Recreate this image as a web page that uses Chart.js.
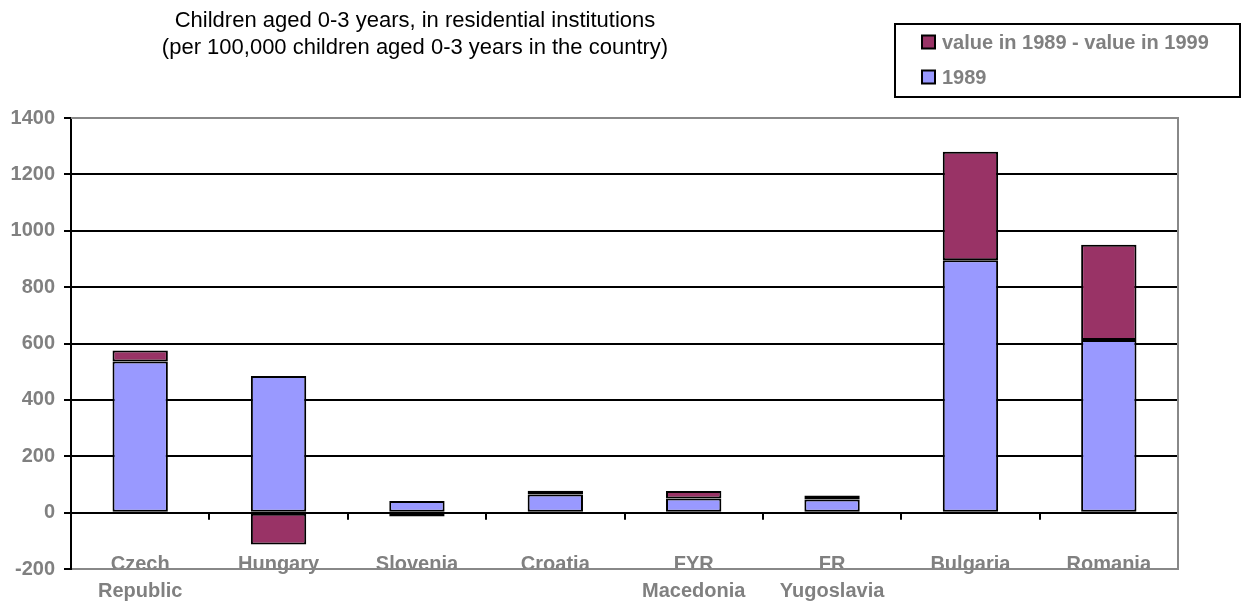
<!DOCTYPE html>
<html>
<head>
<meta charset="utf-8">
<title>Children aged 0-3 years in residential institutions</title>
<script src="https://cdn.jsdelivr.net/npm/chart.js@4/dist/chart.umd.min.js"></script>
<style>
  html, body { margin: 0; padding: 0; background: #ffffff; }
  #wrap { width: 1249px; height: 602px; }
</style>
</head>
<body>
<div id="wrap"><canvas id="chart" width="1249" height="602"></canvas></div>
<script>
// Countries (multi-line labels where the name wraps)
const countries = [
  ['Czech', 'Republic'], 'Hungary', 'Slovenia', 'Croatia',
  ['FYR', 'Macedonia'], ['FR', 'Yugoslavia'], 'Bulgaria', 'Romania'
];
// Rate in 1989, per 100,000 children aged 0-3
const rate1989 = [536, 485, 41, 64, 50, 47, 895, 612];
// Value in 1989 minus value in 1999
const change1989to1999 = [39, -113, -14, 14, 27, 14, 385, 338];
// Value-axis range and step
const yMin = -200;
const yMax = 1400;
const yStep = 200;

const titleLines = [
  'Children aged 0-3 years, in residential institutions',
  '(per 100,000 children aged 0-3 years in the country)'
];

const FONT = '"Liberation Sans", Arial, Helvetica, sans-serif';
const GREY_TEXT = '#808080';
const FRAME = '#888888';

// Two-line heading above the plot
const headingPlugin = {
  id: 'heading',
  afterDraw(chart) {
    const ctx = chart.ctx;
    ctx.save();
    ctx.fillStyle = '#000000';
    ctx.font = '22px ' + FONT;
    ctx.textAlign = 'center';
    ctx.textBaseline = 'middle';
    ctx.fillText(titleLines[0], 415, 21);
    ctx.fillText(titleLines[1], 415, 48);
    ctx.restore();
  }
};

// Boxed legend in the upper right, listing the series top-down in reverse order
const boxedLegendPlugin = {
  id: 'boxedLegend',
  afterDraw(chart) {
    const ctx = chart.ctx;
    const sets = chart.data.datasets.slice().reverse();
    ctx.save();
    ctx.lineWidth = 2;
    ctx.strokeStyle = '#000000';
    ctx.strokeRect(895, 24, 345, 73);
    ctx.font = 'bold 20px ' + FONT;
    ctx.textBaseline = 'middle';
    ctx.textAlign = 'left';
    sets.forEach((ds, i) => {
      const cy = 42 + i * 35;
      ctx.fillStyle = ds.backgroundColor;
      ctx.fillRect(922, cy - 6.5, 13, 13);
      ctx.strokeStyle = '#000000';
      ctx.lineWidth = 2;
      ctx.strokeRect(922, cy - 6.5, 13, 13);
      ctx.fillStyle = GREY_TEXT;
      ctx.fillText(ds.label, 942, cy + 1);
    });
    ctx.restore();
  }
};

// Tick marks on the zero line between categories, category names at the
// foot of the plot, and the grey plot frame drawn over them
const frameAndZeroTicks = {
  id: 'frameAndZeroTicks',
  afterDatasetsDraw(chart) {
    const xs = chart.scales.x;
    const ys = chart.scales.y;
    const ctx = chart.ctx;
    const step = xs.getPixelForValue(1) - xs.getPixelForValue(0);
    const y0 = ys.getPixelForValue(0);
    ctx.save();
    ctx.strokeStyle = '#000000';
    ctx.lineWidth = 2;
    for (let i = 0; i <= countries.length; i++) {
      const bx = Math.round(xs.getPixelForValue(0) - step / 2 + i * step);
      ctx.beginPath();
      ctx.moveTo(bx, y0);
      ctx.lineTo(bx, y0 + 7);
      ctx.stroke();
    }
    ctx.restore();
  },
  afterDraw(chart) {
    const a = chart.chartArea;
    const xs = chart.scales.x;
    const ctx = chart.ctx;
    ctx.save();
    ctx.fillStyle = GREY_TEXT;
    ctx.font = 'bold 20px ' + FONT;
    ctx.textAlign = 'center';
    ctx.textBaseline = 'middle';
    chart.data.labels.forEach((lab, i) => {
      const lines = Array.isArray(lab) ? lab : [lab];
      const cx = xs.getPixelForValue(i);
      lines.forEach((t, j) => ctx.fillText(t, cx, a.bottom - 5 + j * 27));
    });
    ctx.strokeStyle = FRAME;
    ctx.lineWidth = 2;
    ctx.beginPath();
    ctx.moveTo(a.left, a.top);
    ctx.lineTo(a.right, a.top);
    ctx.lineTo(a.right, a.bottom);
    ctx.lineTo(a.left + 1, a.bottom);
    ctx.stroke();
    ctx.restore();
  }
};

new Chart(document.getElementById('chart'), {
  type: 'bar',
  data: {
    labels: countries,
    datasets: [
      {
        label: '1989',
        data: rate1989,
        backgroundColor: '#9999FF',
        borderColor: '#000000',
        borderWidth: 2,
        borderSkipped: false
      },
      {
        label: 'value in 1989 - value in 1999',
        data: change1989to1999,
        backgroundColor: '#993366',
        borderColor: '#000000',
        borderWidth: 2,
        borderSkipped: false
      }
    ]
  },
  options: {
    responsive: false,
    animation: false,
    devicePixelRatio: 1,
    layout: { padding: { top: 118, left: 0, right: 71, bottom: 0 } },
    datasets: { bar: { barPercentage: 0.4, categoryPercentage: 1.0 } },
    plugins: {
      legend: { display: false },
      title: { display: false },
      tooltip: { enabled: false }
    },
    scales: {
      x: {
        stacked: true,
        offset: true,
        grid: { display: false, drawTicks: false },
        border: { display: false },
        ticks: { display: false },
        afterFit(scale) { scale.height = 33; }
      },
      y: {
        stacked: true,
        min: yMin,
        max: yMax,
        ticks: {
          stepSize: yStep,
          color: GREY_TEXT,
          font: { family: FONT, size: 20, weight: 'bold' },
          padding: 9,
          callback: (v) => String(v)
        },
        grid: {
          color: (c) => (c.tick && (c.tick.value === yMax || c.tick.value === yMin)) ? FRAME : '#000000',
          tickColor: '#000000',
          lineWidth: 2,
          tickLength: 7
        },
        border: { display: true, color: '#000000', width: 2 },
        afterFit(scale) { scale.width = 71; }
      }
    }
  },
  plugins: [headingPlugin, boxedLegendPlugin, frameAndZeroTicks]
});
</script>
</body>
</html>
